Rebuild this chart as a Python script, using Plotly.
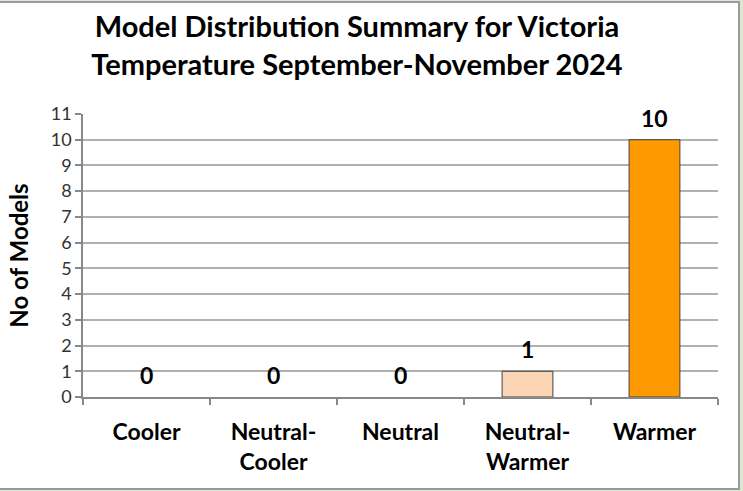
import plotly.graph_objects as go

categories = ["Cooler", "Neutral-<br>Cooler", "Neutral", "Neutral-<br>Warmer", "Warmer"]
models = [0, 0, 0, 1, 10]
bar_colors = ["#FCD5B5", "#FCD5B5", "#FCD5B5", "#FCD5B5", "#FF9900"]
y_ticks = list(range(0, 12))

FONT = "Lato"
W, H = 743, 491
ML, MR, MT, MB = 83, 25, 114, 94
PW, PH = W - ML - MR, H - MT - MB


def px_x(p):
    return (p - ML) / PW


def px_y(p):
    return (H - MB - p) / PH


fig = go.Figure()
fig.add_trace(go.Bar(
    x=categories, y=models, width=0.4,
    marker=dict(color=bar_colors,
                line=dict(color="#404040", width=[1 if v > 0 else 0 for v in models])),
    hoverinfo="x+y",
))

for c, v in zip(categories, models):
    fig.add_annotation(
        x=c, y=v, text=f"<b>{v}</b>", showarrow=False,
        yanchor="bottom", yshift=6,
        font=dict(family=FONT, size=23, color="black"),
    )

fig.update_layout(
    width=W, height=H,
    paper_bgcolor="#DCE8CF", plot_bgcolor="white",
    margin=dict(l=ML, r=MR, t=MT, b=MB),
    showlegend=False,
    title=dict(
        text="<b>Model Distribution Summary for Victoria<br>Temperature September-November 2024</b>",
        x=357 / W, xanchor="center", xref="container",
        y=1 - 37 / H, yanchor="middle", yref="container",
        font=dict(family=FONT, size=29, color="black"),
    ),
    xaxis=dict(
        tickson="boundaries", ticks="outside", ticklen=6, tickcolor="#888", tickwidth=1.5,
        showline=True, linecolor="#888", linewidth=1.5,
        tickfont=dict(family=FONT, size=23, color="black", weight="bold"),
        ticklabelstandoff=14,
        showgrid=False,
    ),
    yaxis=dict(
        range=[0, 11], tickvals=y_ticks, ticks="outside", ticklen=6, tickcolor="#888", tickwidth=1.5,
        showline=True, linecolor="#888", linewidth=1.5,
        showgrid=True, gridcolor="#B0B0B0", gridwidth=1.5,
        tickfont=dict(family=FONT, size=18, color="#333"),
        title=dict(text="<b>No of Models</b>", font=dict(family=FONT, size=24, color="black"), standoff=15),
        zeroline=False,
    ),
)

# white chart area with grey border (left edge runs off the picture)
fig.add_shape(
    type="rect", xref="paper", yref="paper",
    x0=px_x(-3), x1=px_x(739), y0=px_y(489), y1=px_y(2),
    line=dict(color="#9A9A9A", width=2), fillcolor="white", layer="below",
)

fig.write_html("out.html", config={"displayModeBar": False},
               post_script="document.body.style.margin='0';")
